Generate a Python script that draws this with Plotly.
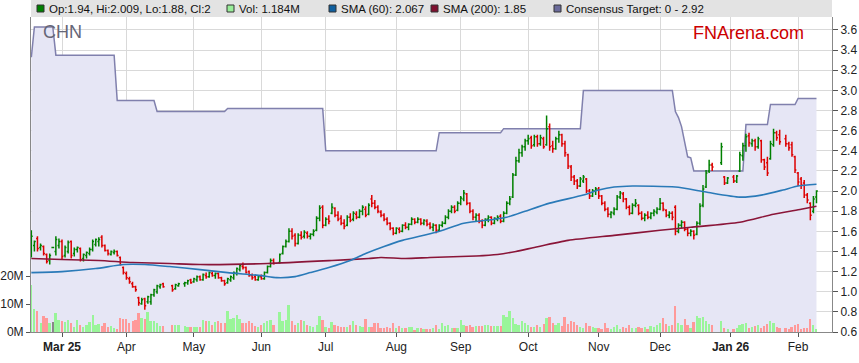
import pandas as pd
import plotly.graph_objects as go

# ---------------- data ----------------
start_date = "2025-02-17"
n_days = 257

opens = [
    1.40, 1.46, 1.53, 1.44, 1.45, 1.37, 1.31, 1.44, 1.40, 1.46,
    1.50, 1.36, 1.40, 1.50, 1.38, 1.42, 1.43, 1.33, 1.36, 1.38,
    1.42, 1.47, 1.50, 1.54, 1.46, 1.41, 1.37, 1.39, 1.40, 1.34,
    1.24, 1.18, 1.13, 1.08, 1.05, 0.94, 0.88, 0.93, 0.90, 0.90,
    0.97, 1.00, 1.05, 1.08, None, None, 1.06, 1.03, 1.06, None,
    1.08, 1.09, 1.12, 1.10, 1.12, 1.15, 1.12, 1.16, 1.15, 1.18,
    1.16, 1.18, 1.14, 1.11, 1.09, 1.12, 1.14, 1.18, 1.22, 1.25,
    1.24, 1.20, 1.16, 1.15, 1.12, 1.15, 1.13, 1.19, 1.25, 1.31,
    None, 1.29, 1.38, 1.45, 1.50, 1.60, 1.56, 1.48, 1.56, 1.55,
    1.58, 1.55, 1.57, 1.61, 1.73, 1.84, 1.66, 1.72, 1.78, 1.83,
    1.76, 1.73, 1.68, 1.66, 1.74, 1.72, 1.77, 1.74, 1.80, 1.82,
    1.77, 1.92, 1.88, 1.84, 1.79, 1.76, 1.72, 1.68, 1.63, 1.58,
    1.62, 1.60, 1.66, 1.64, 1.67, 1.72, 1.69, 1.72, 1.68, 1.70,
    1.67, 1.64, 1.66, 1.61, 1.66, 1.68, 1.74, 1.80, 1.84, 1.81,
    1.88, 1.92, 1.97, 1.88, 1.80, 1.74, 1.76, 1.70, 1.66, 1.72,
    1.74, 1.68, 1.72, 1.75, 1.70, 1.78, 1.88, 1.94, 2.16, 2.30,
    2.38, 2.44, 2.50, 2.53, 2.46, 2.54, 2.47, 2.52, 2.46, 2.64,
    2.45, 2.42, 2.52, 2.56, 2.47, 2.36, 2.24, 2.14, 2.10, 2.05,
    2.10, 2.12, 2.00, 1.95, 2.00, 2.02, 1.95, 1.88, 1.82, 1.77,
    1.78, 1.82, 1.94, 1.97, 1.92, 1.84, 1.78, 1.86, 1.86, 1.78,
    1.73, 1.76, 1.74, 1.78, 1.79, 1.82, 1.88, 1.81, 1.76, 1.78,
    1.84, 1.60, 1.66, 1.69, 1.62, 1.58, 1.60, 1.57, 1.68, 1.86,
    2.04, 2.20, 2.26, None, None, 2.28, 2.14, 2.08, None, 2.14,
    2.10, 2.20, 2.35, 2.45, 2.55, 2.47, 2.50, 2.44, 2.50, 2.31,
    2.28, 2.32, 2.46, 2.58, 2.56, None, 2.52, 2.47, 2.46, 2.34,
    2.18, 2.12, 2.08, 1.96, 1.88, 1.80, 1.94,
]

highs = [
    1.61, 1.51, 1.55, 1.48, 1.46, 1.38, 1.38, 1.445, 1.55, 1.53,
    1.52, 1.46, 1.51, 1.51, 1.44, 1.45, 1.44, 1.38, 1.40, 1.44,
    1.52, 1.53, 1.54, 1.56, 1.47, 1.42, 1.41, 1.42, 1.41, 1.35,
    1.25, 1.20, 1.15, 1.10, 1.06, 0.95, 0.94, 0.94, 0.96, 0.98,
    1.03, 1.07, 1.08, 1.09, None, None, 1.07, 1.08, 1.09, None,
    1.10, 1.12, 1.13, 1.14, 1.16, 1.16, 1.18, 1.19, 1.20, 1.20,
    1.19, 1.19, 1.15, 1.12, 1.14, 1.16, 1.20, 1.24, 1.27, 1.29,
    1.25, 1.21, 1.18, 1.17, 1.16, 1.17, 1.20, 1.26, 1.33, 1.33,
    None, 1.38, 1.46, 1.52, 1.63, 1.63, 1.58, 1.58, 1.60, 1.61,
    1.60, 1.58, 1.62, 1.75, 1.86, 1.86, 1.74, 1.76, 1.88, 1.84,
    1.80, 1.76, 1.72, 1.76, 1.78, 1.80, 1.80, 1.82, 1.86, 1.85,
    1.88, 1.96, 1.91, 1.86, 1.81, 1.78, 1.74, 1.69, 1.64, 1.64,
    1.64, 1.67, 1.69, 1.68, 1.74, 1.73, 1.74, 1.73, 1.72, 1.72,
    1.69, 1.68, 1.67, 1.67, 1.70, 1.76, 1.82, 1.86, 1.86, 1.90,
    1.95, 2.01, 1.98, 1.89, 1.82, 1.78, 1.78, 1.72, 1.73, 1.76,
    1.75, 1.74, 1.76, 1.77, 1.80, 1.90, 1.95, 2.18, 2.34, 2.42,
    2.46, 2.52, 2.56, 2.55, 2.56, 2.56, 2.56, 2.54, 2.75, 2.67,
    2.50, 2.54, 2.60, 2.57, 2.50, 2.37, 2.26, 2.16, 2.12, 2.14,
    2.16, 2.13, 2.02, 2.02, 2.04, 2.04, 1.96, 1.90, 1.84, 1.80,
    1.84, 1.96, 2.00, 1.99, 1.93, 1.86, 1.88, 1.92, 1.87, 1.80,
    1.78, 1.80, 1.79, 1.82, 1.84, 1.93, 1.89, 1.82, 1.80, 1.80,
    1.86, 1.68, 1.71, 1.70, 1.64, 1.62, 1.61, 1.70, 1.88, 2.06,
    2.21, 2.31, 2.28, None, None, 2.48, 2.15, 2.14, None, 2.16,
    2.16, 2.39, 2.48, 2.57, 2.58, 2.52, 2.52, 2.54, 2.51, 2.32,
    2.34, 2.50, 2.62, 2.60, 2.61, None, 2.56, 2.49, 2.49, 2.35,
    2.19, 2.14, 2.11, 1.98, 1.89, 1.95, 2.009,
]

lows = [
    1.34, 1.40, 1.40, 1.41, 1.36, 1.28, 1.27, 1.435, 1.36, 1.43,
    1.32, 1.34, 1.38, 1.33, 1.35, 1.39, 1.30, 1.30, 1.33, 1.36,
    1.40, 1.45, 1.45, 1.44, 1.40, 1.36, 1.36, 1.37, 1.35, 1.26,
    1.17, 1.12, 1.08, 1.04, 1.00, 0.86, 0.87, 0.82, 0.88, 0.87,
    0.95, 0.98, 1.03, 1.04, None, None, 1.00, 1.02, 1.05, None,
    1.05, 1.07, 1.08, 1.09, 1.10, 1.11, 1.11, 1.13, 1.14, 1.15,
    1.13, 1.13, 1.10, 1.06, 1.08, 1.10, 1.12, 1.16, 1.20, 1.22,
    1.18, 1.15, 1.12, 1.11, 1.11, 1.12, 1.12, 1.18, 1.24, 1.27,
    None, 1.28, 1.37, 1.44, 1.49, 1.52, 1.45, 1.47, 1.52, 1.53,
    1.53, 1.52, 1.55, 1.60, 1.70, 1.63, 1.65, 1.67, 1.77, 1.74,
    1.70, 1.66, 1.62, 1.65, 1.69, 1.70, 1.72, 1.73, 1.76, 1.74,
    1.76, 1.84, 1.82, 1.78, 1.74, 1.70, 1.66, 1.61, 1.56, 1.57,
    1.58, 1.59, 1.62, 1.61, 1.66, 1.67, 1.68, 1.66, 1.66, 1.65,
    1.62, 1.60, 1.58, 1.60, 1.64, 1.67, 1.72, 1.78, 1.78, 1.80,
    1.86, 1.90, 1.86, 1.78, 1.71, 1.70, 1.68, 1.63, 1.65, 1.69,
    1.66, 1.67, 1.70, 1.68, 1.69, 1.77, 1.86, 1.93, 2.15, 2.28,
    2.34, 2.40, 2.46, 2.42, 2.44, 2.44, 2.45, 2.42, 2.45, 2.40,
    2.38, 2.41, 2.48, 2.44, 2.34, 2.22, 2.10, 2.06, 2.02, 2.04,
    2.08, 1.98, 1.92, 1.94, 1.96, 1.92, 1.86, 1.80, 1.74, 1.73,
    1.76, 1.81, 1.92, 1.89, 1.82, 1.76, 1.77, 1.84, 1.76, 1.71,
    1.70, 1.72, 1.72, 1.75, 1.77, 1.81, 1.80, 1.74, 1.73, 1.71,
    1.56, 1.58, 1.63, 1.60, 1.55, 1.55, 1.52, 1.56, 1.66, 1.84,
    2.03, 2.18, 2.20, None, None, 2.26, 2.06, 2.07, None, 2.08,
    2.08, 2.19, 2.30, 2.39, 2.44, 2.44, 2.40, 2.42, 2.28, 2.21,
    2.15, 2.31, 2.44, 2.50, 2.46, None, 2.44, 2.40, 2.34, 2.18,
    2.05, 2.02, 1.93, 1.88, 1.71, 1.78, 1.88,
]

closes = [
    1.55, 1.50, 1.43, 1.46, 1.38, 1.30, 1.36, 1.44, 1.52, 1.50,
    1.35, 1.44, 1.49, 1.36, 1.42, 1.44, 1.32, 1.37, 1.39, 1.42,
    1.50, 1.52, 1.52, 1.46, 1.41, 1.38, 1.40, 1.40, 1.36, 1.27,
    1.19, 1.14, 1.10, 1.05, 1.02, 0.89, 0.92, 0.86, 0.95, 0.97,
    1.02, 1.06, 1.07, 1.05, None, None, 1.02, 1.07, 1.08, None,
    1.09, 1.11, 1.09, 1.13, 1.15, 1.12, 1.17, 1.15, 1.19, 1.16,
    1.18, 1.14, 1.11, 1.08, 1.13, 1.15, 1.19, 1.23, 1.26, 1.24,
    1.19, 1.16, 1.14, 1.12, 1.15, 1.13, 1.19, 1.25, 1.31, 1.28,
    None, 1.37, 1.45, 1.50, 1.60, 1.55, 1.48, 1.56, 1.54, 1.59,
    1.55, 1.57, 1.60, 1.73, 1.83, 1.66, 1.72, 1.70, 1.84, 1.76,
    1.72, 1.68, 1.65, 1.74, 1.71, 1.78, 1.74, 1.80, 1.84, 1.76,
    1.86, 1.88, 1.84, 1.80, 1.76, 1.72, 1.68, 1.63, 1.58, 1.63,
    1.60, 1.66, 1.64, 1.67, 1.72, 1.69, 1.72, 1.68, 1.71, 1.67,
    1.64, 1.66, 1.61, 1.66, 1.68, 1.74, 1.80, 1.84, 1.80, 1.88,
    1.93, 1.98, 1.88, 1.80, 1.74, 1.76, 1.70, 1.66, 1.72, 1.74,
    1.68, 1.73, 1.74, 1.70, 1.78, 1.88, 1.92, 2.16, 2.30, 2.38,
    2.44, 2.50, 2.52, 2.45, 2.54, 2.47, 2.53, 2.44, 2.62, 2.44,
    2.42, 2.52, 2.56, 2.47, 2.38, 2.25, 2.14, 2.10, 2.05, 2.12,
    2.14, 2.00, 1.95, 2.00, 2.02, 1.95, 1.88, 1.82, 1.77, 1.79,
    1.82, 1.94, 1.98, 1.92, 1.84, 1.78, 1.86, 1.88, 1.78, 1.73,
    1.76, 1.74, 1.78, 1.80, 1.82, 1.88, 1.82, 1.76, 1.78, 1.74,
    1.60, 1.66, 1.69, 1.62, 1.58, 1.60, 1.56, 1.68, 1.85, 2.02,
    2.18, 2.26, 2.24, None, None, 2.44, 2.08, 2.13, None, 2.10,
    2.15, 2.36, 2.45, 2.54, 2.48, 2.50, 2.44, 2.52, 2.31, 2.24,
    2.18, 2.47, 2.58, 2.53, 2.49, None, 2.47, 2.43, 2.36, 2.21,
    2.09, 2.06, 1.96, 1.91, 1.76, 1.92, 2.00,
]

volume_m = [
    16.8, 8.2, 7.5, 3.3, 5.8, 4.9, 3.3, 3.7, 6.9, 4.3,
    4.0, 3.7, 4.3, 3.3, 1.9, 4.3, 2.5, 1.9, 2.5, 3.7,
    6.1, 2.5, 2.9, 2.1, 3.3, 1.9, 2.1, 1.3, 1.0, 5.0,
    4.6, 4.6, 3.3, 3.8, 4.3, 6.9, 5.0, 4.6, 7.3, 3.9,
    3.9, 3.3, 2.1, 2.1, None, None, 2.5, 2.5, 2.5, None,
    2.1, 1.7, 1.9, 1.7, 1.9, 1.7, 4.3, 4.0, 3.9, 2.5,
    3.7, 4.0, 3.1, 3.1, 7.5, 4.6, 5.1, 6.1, 4.8, 3.3,
    3.3, 4.0, 3.3, 2.1, 1.9, 2.5, 3.1, 3.9, 4.3, 2.5,
    None, 7.3, 3.8, 4.3, 9.6, 3.8, 2.5, 3.1, 4.3, 4.0,
    2.5, 2.1, 1.9, 2.5, 5.7, 4.3, 1.9, 1.4, 3.7, 2.5,
    2.1, 1.9, 1.7, 1.9, 2.5, 4.0, 2.5, 2.1, 1.7, 4.6,
    1.9, 1.7, 3.3, 3.3, 1.3, 1.5, 1.7, 1.5, 3.3, 1.3,
    2.1, 1.5, 1.5, 1.7, 1.7, 0.7, 1.3, 1.3, 1.0, 1.1,
    1.1, 1.5, 2.5, 1.0, 3.3, 2.1, 2.5, 1.3, 1.3, 1.5,
    4.3, 2.5, 2.1, 2.5, 1.9, 2.1, 2.1, 2.1, 2.5, 2.5,
    2.1, 2.1, 2.1, 2.1, 6.1, 5.5, 7.5, 5.0, 2.9, 2.5,
    4.0, 3.2, 2.5, 1.9, 1.7, 2.5, 1.9, 2.9, 5.0, 5.5,
    3.2, 2.5, 3.2, 2.1, 5.2, 2.9, 3.9, 3.7, 2.5, 1.7,
    1.3, 3.1, 2.1, 1.7, 1.3, 1.3, 1.1, 3.1, 1.3, 1.0,
    1.7, 2.5, 1.0, 1.7, 1.3, 2.5, 1.3, 1.3, 1.7, 1.3,
    1.7, 1.1, 2.1, 1.9, 2.5, 3.1, 4.9, 2.9, 2.1, 2.5,
    9.3, 3.1, 2.5, 4.6, 2.5, 1.3, 3.7, 5.8, 4.9, 5.4,
    4.0, 2.9, 2.5, None, None, 4.0, 1.3, 1.0, None, 1.0,
    1.3, 2.5, 2.9, 3.1, 1.5, 1.7, 2.1, 2.5, 1.4, 2.1,
    2.9, 3.9, 3.3, 1.7, 1.5, None, 1.3, 1.0, 1.9, 2.5,
    2.9, 1.1, 1.5, 1.5, 4.6, 2.5, 1.184,
]

# Consensus target (breakpoints: trading-day index, value)
target_idx = [0, 1, 7, 8, 27, 28, 40, 41, 63, 64, 95, 96, 132, 133, 153, 154,
              179, 180, 209, 210, 211, 212, 214, 215, 216, 232, 233, 240, 241, 249, 250, 256]
target_val = [3.33, 3.63, 3.63, 3.35, 3.35, 2.90, 2.90, 2.79, 2.79, 2.82, 2.82, 2.40,
              2.40, 2.58, 2.58, 2.62, 2.62, 3.00, 3.00, 2.79, 2.73, 2.64, 2.34, 2.33,
              2.20, 2.20, 2.66, 2.66, 2.86, 2.86, 2.92, 2.92]

sma60_idx = [0, 10, 21, 30, 37, 45, 55, 64, 75, 80, 86, 91, 97, 104, 109, 115, 121,
             132, 141, 151, 155, 161, 169, 180, 185, 190, 196, 210, 220, 231, 238, 245, 250, 256]
sma60_val = [1.19, 1.20, 1.23, 1.27, 1.27, 1.25, 1.22, 1.19, 1.16, 1.14, 1.15, 1.19,
             1.24, 1.31, 1.38, 1.45, 1.51, 1.59, 1.68, 1.72, 1.74, 1.80, 1.88, 1.96,
             2.01, 2.04, 2.05, 2.04, 1.99, 1.94, 1.96, 2.01, 2.05, 2.067]

sma200_idx = [0, 10, 22, 33, 45, 55, 77, 98, 110, 114, 122, 130, 145, 152, 158, 164,
              175, 190, 205, 215, 231, 242, 251, 256]
sma200_val = [1.33, 1.32, 1.31, 1.29, 1.28, 1.27, 1.28, 1.31, 1.33, 1.34, 1.33, 1.34,
              1.355, 1.37, 1.40, 1.44, 1.51, 1.56, 1.61, 1.64, 1.69, 1.77, 1.82, 1.85]

tick_months = ["2025-03", "2025-04", "2025-05", "2025-06", "2025-07", "2025-08",
               "2025-09", "2025-10", "2025-11", "2025-12", "2026-01", "2026-02"]
tick_labels = ["<b>Mar 25</b>", "Apr", "May", "Jun", "Jul", "Aug", "Sep", "Oct",
               "Nov", "Dec", "<b>Jan 26</b>", "Feb"]

legend_items = [
    ("Op:1.94, Hi:2.009, Lo:1.88, Cl:2", "#008000", 37),
    ("Vol: 1.184M", "#99ee99", 227),
    ("SMA (60): 2.067", "#0f5f9f", 329),
    ("SMA (200): 1.85", "#7f1030", 431),
    ("Consensus Target: 0 - 2.92", "#6b6b9b", 554),
]

for arr in (opens, highs, lows, closes, volume_m):
    assert len(arr) == n_days, len(arr)

# ---------------- figure ----------------
dates = pd.bdate_range(start_date, periods=n_days)
idx = list(range(n_days))
tick_pos = []
for m in tick_months:
    ms = pd.Timestamp(m + "-01")
    tick_pos.append(int((dates >= ms).argmax()))

valid = [i for i in idx if closes[i] is not None]

W, H = 859, 363
ML, MR, MT, MB = 31, 27, 17, 31
PW, PH = W - ML - MR, H - MT - MB

def px_x(px):
    return (px - ML) / PW

def px_y(py):
    return (H - MB - py) / PH

font_fam = "Liberation Sans, Arial, sans-serif"

fig = go.Figure()

# target area on the base axis (bottom layer)
fig.add_trace(go.Scatter(
    x=target_idx, y=target_val, mode="lines",
    line=dict(color="#8080ad", width=1.5),
    fill="tozeroy", fillcolor="#e6e6f5", hoverinfo="skip", showlegend=False,
))

# volume on y2
vol_colors = []
for i in valid:
    if closes[i] > opens[i]:
        vol_colors.append("#99f599")
    elif closes[i] < opens[i]:
        vol_colors.append("#ff9999")
    else:
        vol_colors.append("#888888")

fig.add_trace(go.Bar(
    x=valid, y=[volume_m[i] for i in valid], yaxis="y2",
    marker=dict(color=vol_colors, line=dict(width=0)),
    width=0.65, hoverinfo="skip", showlegend=False,
))

# price layer on y3 (top)
fig.add_trace(go.Scatter(
    x=sma200_idx, y=sma200_val, mode="lines", yaxis="y3",
    line=dict(color="#8a1538", width=1.6, shape="spline", smoothing=0.6),
    hoverinfo="skip", showlegend=False,
))
fig.add_trace(go.Scatter(
    x=sma60_idx, y=sma60_val, mode="lines", yaxis="y3",
    line=dict(color="#2a7ab8", width=1.6, shape="spline", smoothing=0.6),
    hoverinfo="skip", showlegend=False,
))
fig.add_trace(go.Ohlc(
    x=valid, yaxis="y3",
    open=[opens[i] for i in valid],
    high=[highs[i] for i in valid],
    low=[lows[i] for i in valid],
    close=[closes[i] for i in valid],
    increasing=dict(line=dict(color="#008000", width=1.5)),
    decreasing=dict(line=dict(color="#dd0000", width=1.5)),
    tickwidth=0.45, showlegend=False, hoverinfo="skip",
))

shapes = [dict(type="rect", xref="paper", yref="paper",
               x0=0, x1=1, y0=1.0, y1=px_y(0), fillcolor="#e3e3e3",
               line=dict(width=0), layer="above")]
annotations = []
for text, col, sx in legend_items:
    shapes.append(dict(type="rect", xref="paper", yref="paper",
                       x0=px_x(sx), x1=px_x(sx + 7), y0=px_y(12), y1=px_y(5),
                       fillcolor=col, line=dict(color="#333333", width=1)))
    annotations.append(dict(text=text, xref="paper", yref="paper",
                            x=px_x(sx + 10), y=px_y(8.5), xanchor="left", yanchor="middle",
                            showarrow=False, font=dict(family=font_fam, size=11.5, color="#111111")))

annotations.append(dict(text="CHN", xref="paper", yref="paper", x=px_x(41), y=px_y(32),
                        xanchor="left", yanchor="middle", showarrow=False,
                        font=dict(family=font_fam, size=18, color="#666677")))
annotations.append(dict(text="FNArena.com", xref="paper", yref="paper", x=px_x(806), y=px_y(33),
                        xanchor="right", yanchor="middle", showarrow=False,
                        font=dict(family=font_fam, size=18, color="#cc0000")))

x0 = (ML - 31.33) / 3.067
x1 = (ML + PW - 31.33) / 3.067
y_top = 0.6 + PH / 100.67

price_axis = dict(
    range=[0.6, y_top], dtick=0.2, tick0=0.6, tickformat=".1f", automargin=False,
    zeroline=False,
)

fig.update_layout(
    width=W, height=H,
    margin=dict(l=ML, r=MR, t=MT, b=MB, autoexpand=False),
    paper_bgcolor="white", plot_bgcolor="white",
    font=dict(family=font_fam, size=12, color="#222222"),
    shapes=shapes, annotations=annotations,
    bargap=0, showlegend=False,
    xaxis=dict(
        range=[x0, x1], tickvals=tick_pos, ticktext=tick_labels, automargin=False,
        showgrid=True, gridcolor="#d9d9d9", gridwidth=1,
        showline=True, linecolor="#888888", linewidth=1,
        ticks="outside", ticklen=4, tickcolor="#555555",
        tickfont=dict(size=12, color="#222222"),
        rangeslider=dict(visible=False), zeroline=False,
    ),
    yaxis=dict(
        **price_axis, side="right",
        showgrid=True, gridcolor="#d9d9d9", gridwidth=1,
        showline=True, linecolor="#888888", linewidth=1,
        ticks="outside", ticklen=5, tickcolor="#555555",
        tickfont=dict(size=12, color="#222222"),
    ),
    yaxis2=dict(
        overlaying="y", side="left", range=[0, PH / 2.8], automargin=False,
        tickvals=[0, 10, 20], ticktext=["0M", "10M", "20M"],
        showgrid=False, showline=True, linecolor="#888888", linewidth=1,
        ticks="outside", ticklen=4, tickcolor="#555555",
        tickfont=dict(size=12, color="#222222"), zeroline=False,
    ),
    yaxis3=dict(
        **price_axis, overlaying="y", side="right",
        showgrid=False, showline=False, showticklabels=False, ticks="",
    ),
)

fig.write_html("out.html", config={"displayModeBar": False},
               post_script="document.body.style.margin='0';")
